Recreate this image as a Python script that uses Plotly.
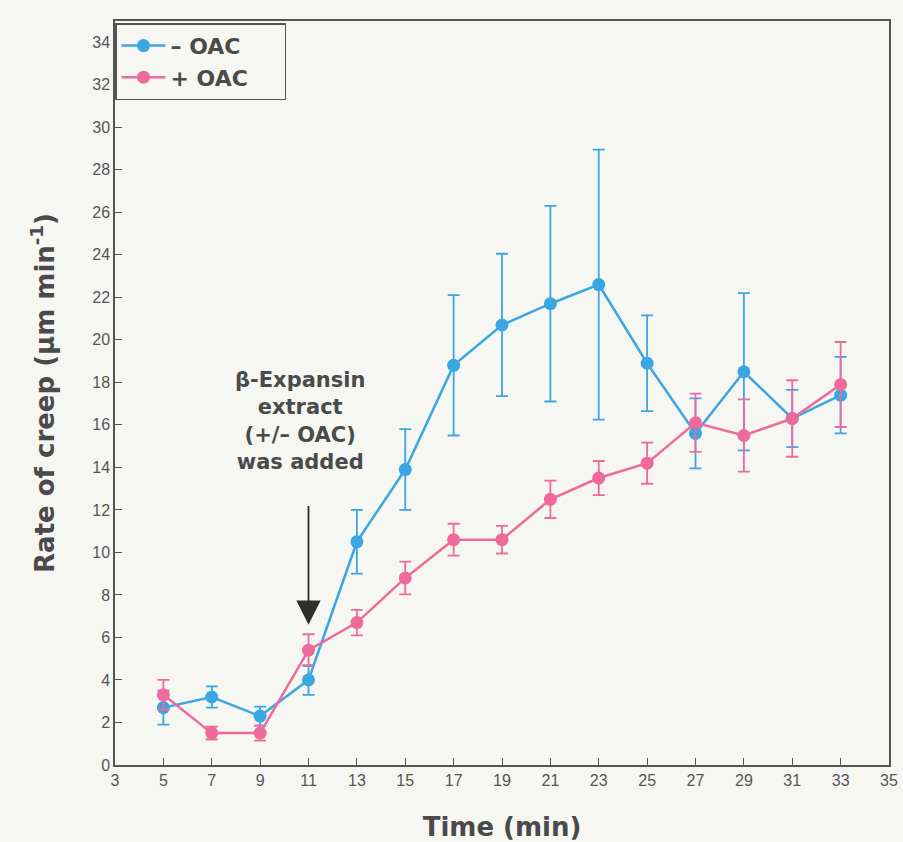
import plotly.graph_objects as go

# Sampling times (min)
time_min = [5, 7, 9, 11, 13, 15, 17, 19, 21, 23, 25, 27, 29, 31, 33]

# Creep rate without OAC (µm/min) and its error
minus_oac = [2.7, 3.2, 2.3, 4.0, 10.5, 13.9, 18.8, 20.7, 21.7, 22.6, 18.9, 15.6, 18.5, 16.3, 17.4]
minus_err = [0.8, 0.5, 0.45, 0.7, 1.5, 1.9, 3.3, 3.35, 4.6, 6.35, 2.25, 1.65, 3.7, 1.35, 1.8]

# Creep rate with OAC (µm/min) and its error
plus_oac = [3.3, 1.5, 1.5, 5.4, 6.7, 8.8, 10.6, 10.6, 12.5, 13.5, 14.2, 16.1, 15.5, 16.3, 17.9]
plus_err = [0.7, 0.3, 0.35, 0.75, 0.6, 0.77, 0.75, 0.65, 0.88, 0.8, 0.97, 1.37, 1.7, 1.8, 2.0]

x_ticks = list(range(3, 36, 2))
y_ticks = list(range(0, 35, 2))

BLUE = "#3aa6e2"
PINK = "#ee6a9b"
INK = "#4a4a4a"
BG = "#f6f6f3"
BOLD_FONT = "DejaVu Sans, Liberation Sans, Arial"
TICK_FONT = "Liberation Sans, Arial"
PAD = "\u00a0" * 4  # trailing space so the legend box gets some room on the right

fig = go.Figure()

fig.add_trace(go.Scatter(
    x=time_min, y=minus_oac, name="– OAC" + PAD, mode="lines+markers",
    line=dict(color=BLUE, width=2.5),
    marker=dict(color=BLUE, size=13),
    error_y=dict(type="data", array=minus_err, color=BLUE, thickness=1.8, width=6),
))
fig.add_trace(go.Scatter(
    x=time_min, y=plus_oac, name="+ OAC" + PAD, mode="lines+markers",
    line=dict(color=PINK, width=2.5),
    marker=dict(color=PINK, size=13),
    error_y=dict(type="data", array=plus_err, color=PINK, thickness=1.8, width=6),
))

# Treatment note and arrow marking the addition time
fig.add_annotation(
    x=10.65, y=16.2, xref="x", yref="y", showarrow=False,
    text="<b>β-Expansin<br>extract<br>(+/– OAC)<br>was added</b>",
    font=dict(family=BOLD_FONT, size=21, color=INK),
    align="center",
)
fig.add_annotation(
    x=11, y=6.6, xref="x", yref="y", ax=11, ay=12.25, axref="x", ayref="y",
    text="", showarrow=True, arrowhead=2, arrowsize=2.7, arrowwidth=1.8,
    arrowcolor="#2e2e2e",
)

fig.update_layout(
    width=903, height=842,
    margin=dict(l=115, r=14, t=21, b=77),
    paper_bgcolor=BG, plot_bgcolor=BG,
    font=dict(family=TICK_FONT, color=INK),
    showlegend=True,
    legend=dict(
        x=0, y=0.997, xanchor="left", yanchor="top",
        bgcolor=BG, bordercolor="#555555", borderwidth=1.5,
        font=dict(size=22, color=INK, family=BOLD_FONT, weight="bold"),
        itemwidth=44, tracegroupgap=0,
    ),
    xaxis=dict(
        range=[3, 35], tickvals=x_ticks, ticks="inside", ticklen=7,
        tickcolor="#555555", showline=True, linecolor="#555555", linewidth=1.5,
        mirror=True, showgrid=False, zeroline=False, automargin=False,
        tickfont=dict(size=16, color="#555555"),
        title=dict(text="<b>Time (min)</b>",
                   font=dict(size=26, color=INK, family=BOLD_FONT), standoff=30),
    ),
    yaxis=dict(
        range=[0, 35], tickvals=y_ticks, ticks="inside", ticklen=7,
        tickcolor="#555555", showline=True, linecolor="#555555", linewidth=1.5,
        mirror=True, showgrid=False, zeroline=False, automargin=False,
        tickfont=dict(size=16, color="#555555"),
        title=dict(text="<b>Rate of creep (µm min<sup>-1</sup>)</b>",
                   font=dict(size=26, color=INK, family=BOLD_FONT), standoff=30),
    ),
)

fig.write_html("out.html")
